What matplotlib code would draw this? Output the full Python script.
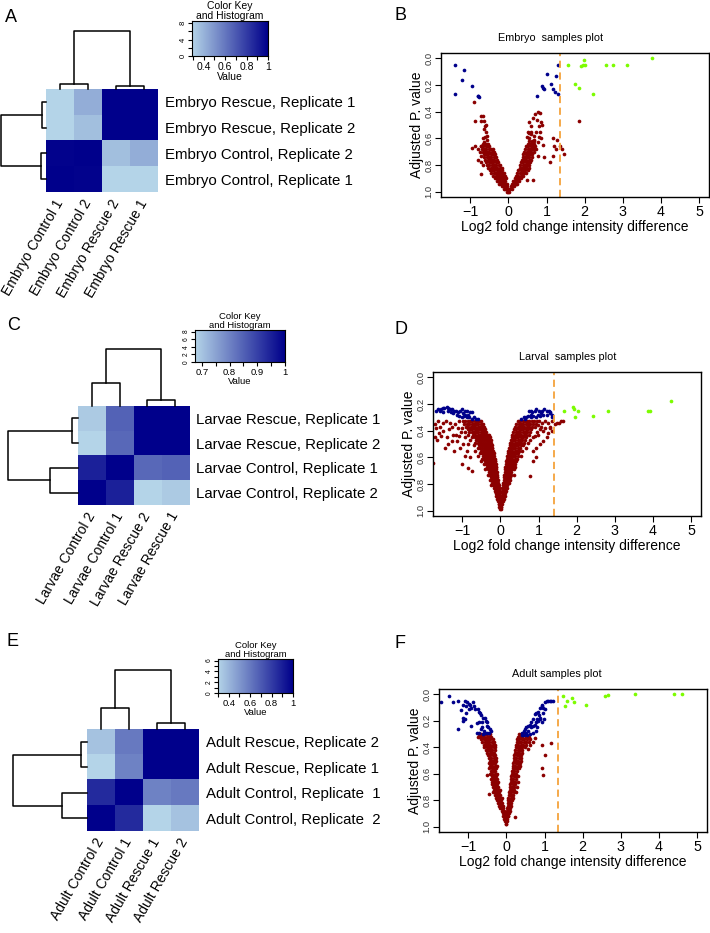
import numpy as np
import matplotlib.pyplot as plt
from matplotlib import font_manager
from matplotlib.colors import LinearSegmentedColormap

W, H = 710, 933
plt.rcParams['font.family'] = ['Liberation Sans', 'DejaVu Sans']
installed = {f.name for f in font_manager.fontManager.ttflist}
narrow = 'Liberation Sans Narrow' in installed

# ---------------- heatmap data ----------------
emb_rows = ['Embryo Rescue, Replicate 1', 'Embryo Rescue, Replicate 2',
            'Embryo Control, Replicate 2', 'Embryo Control, Replicate 1']
emb_cols = ['Embryo Control 1', 'Embryo Control 2', 'Embryo Rescue 2', 'Embryo Rescue 1']
emb_corr = [[0.29, 0.42, 1.00, 1.00],
            [0.29, 0.36, 1.00, 1.00],
            [0.99, 1.00, 0.36, 0.42],
            [1.00, 0.99, 0.29, 0.29]]
emb_col_h = [0.087, 0.058, 1.0]   # pair(1,2), pair(3,4), root
emb_row_h = [0.096, 0.11, 1.0]

larv_rows = ['Larvae Rescue, Replicate 1', 'Larvae Rescue, Replicate 2',
             'Larvae Control, Replicate 1', 'Larvae Control, Replicate 2']
larv_cols = ['Larvae Control 2', 'Larvae Control 1', 'Larvae Rescue 2', 'Larvae Rescue 1']
larv_corr = [[0.69, 0.85, 1.00, 1.00],
             [0.675, 0.84, 1.00, 1.00],
             [0.95, 1.00, 0.84, 0.85],
             [1.00, 0.95, 0.675, 0.69]]
larv_col_h = [0.40, 0.106, 1.0]
larv_row_h = [0.092, 0.406, 1.0]

adult_rows = ['Adult Rescue, Replicate 2', 'Adult Rescue, Replicate 1',
              'Adult Control, Replicate  1', 'Adult Control, Replicate  2']
adult_cols = ['Adult Control 2', 'Adult Control 1', 'Adult Rescue 1', 'Adult Rescue 2']
adult_corr = [[0.36, 0.60, 1.00, 1.00],
              [0.30, 0.57, 1.00, 1.00],
              [0.86, 1.00, 0.57, 0.60],
              [1.00, 0.86, 0.30, 0.36]]
adult_col_h = [0.35, 0.096, 1.0]
adult_row_h = [0.083, 0.335, 1.0]

# ---------------- volcano data ----------------
# dense arms: (adjusted p, [log2 fold changes])
b_red_rows = [
    (0.62, [0.55, 0.61, 0.67]),
    (0.64, [-0.68, -0.63, -0.58, -0.53, 0.50, 0.56, 0.62, 0.68]),
    (0.66, [-0.72, -0.66, -0.60, -0.55, -0.50, 0.46, 0.52, 0.58, 0.64, 0.70]),
    (0.68, [-0.70, -0.64, -0.58, -0.52, -0.46, -0.41, 0.44, 0.50, 0.56, 0.62, 0.68, 0.73]),
    (0.70, [-0.68, -0.62, -0.56, -0.50, -0.44, -0.38, 0.42, 0.48, 0.54, 0.60, 0.66]),
    (0.72, [-0.65, -0.59, -0.53, -0.47, -0.41, -0.36, 0.39, 0.45, 0.51, 0.57, 0.63]),
    (0.74, [-0.63, -0.57, -0.51, -0.45, -0.39, -0.33, 0.37, 0.43, 0.49, 0.55, 0.61]),
    (0.76, [-0.61, -0.55, -0.49, -0.43, -0.37, -0.31, 0.35, 0.41, 0.47, 0.53, 0.59]),
    (0.78, [-0.58, -0.52, -0.46, -0.40, -0.34, -0.28, 0.33, 0.39, 0.45, 0.51, 0.57]),
    (0.80, [-0.56, -0.50, -0.44, -0.38, -0.32, -0.26, -0.21, 0.31, 0.37, 0.43, 0.49, 0.55]),
    (0.82, [-0.53, -0.47, -0.41, -0.35, -0.29, -0.23, -0.18, 0.29, 0.35, 0.41, 0.47, 0.53]),
    (0.84, [-0.49, -0.43, -0.37, -0.31, -0.25, -0.20, -0.16, 0.26, 0.32, 0.38, 0.44, 0.50]),
    (0.86, [-0.45, -0.39, -0.33, -0.27, -0.22, -0.17, -0.13, 0.23, 0.29, 0.35, 0.41, 0.46]),
    (0.88, [-0.40, -0.34, -0.29, -0.24, -0.19, -0.14, -0.10, 0.20, 0.26, 0.32, 0.38]),
    (0.90, [-0.35, -0.30, -0.25, -0.20, -0.15, -0.11, -0.07, 0.16, 0.22, 0.28, 0.33]),
    (0.92, [-0.30, -0.25, -0.20, -0.16, -0.12, -0.08, 0.13, 0.18, 0.23, 0.28]),
    (0.94, [-0.24, -0.20, -0.16, -0.12, -0.08, -0.05, 0.09, 0.14, 0.19, 0.23]),
    (0.96, [-0.18, -0.14, -0.10, -0.07, -0.04, 0.06, 0.10, 0.14]),
    (0.98, [-0.11, -0.08, -0.05, -0.02, 0.02, 0.05, 0.08]),
    (1.00, [-0.04, -0.01, 0.01]),
]
b_red_extra = [(-0.91, 0.33), (-0.72, 0.43), (-0.66, 0.43), (-0.63, 0.47), (-0.60, 0.50),
               (-0.64, 0.53), (-0.58, 0.55), (-0.57, 0.58), (-0.62, 0.51), (-0.72, 0.47),
               (-0.89, 0.47), (-0.96, 0.67), (-0.88, 0.66), (-0.76, 0.70), (-0.73, 0.73),
               (-0.73, 0.78), (-0.71, 0.87), (-0.67, 0.60), (-0.61, 0.59), (-0.56, 0.61),
               (-0.65, 0.63), (-0.72, 0.66), (-0.79, 0.68), (-0.80, 0.76), (-0.67, 0.80),
               (0.53, 0.48), (0.58, 0.51), (0.65, 0.45), (0.70, 0.42), (0.77, 0.40),
               (0.82, 0.41), (0.86, 0.48), (0.80, 0.51), (0.74, 0.46), (0.60, 0.55),
               (0.53, 0.56), (0.82, 0.55), (0.87, 0.50), (1.17, 0.60), (1.28, 0.61),
               (1.20, 0.66), (1.25, 0.68), (1.36, 0.66), (1.16, 0.73), (1.10, 0.78),
               (0.93, 0.74), (0.77, 0.73), (1.45, 0.72), (1.40, 0.68), (0.48, 0.91),
               (0.64, 0.91), (0.46, 0.82), (1.84, 0.47), (0.51, 0.55), (0.59, 0.57),
               (0.66, 0.58), (0.73, 0.55), (0.79, 0.59), (0.68, 0.61), (0.55, 0.60),
               (0.49, 0.59), (0.61, 0.63), (0.77, 0.63), (0.86, 0.60), (0.90, 0.65),
               (0.64, 0.66)]
b_blue = [(-1.40, 0.05), (-1.16, 0.09), (-1.21, 0.16), (-0.95, 0.21), (-1.40, 0.27),
          (-0.80, 0.28), (-0.79, 0.28), (-0.78, 0.29), (1.29, 0.05), (1.00, 0.12),
          (1.25, 0.13), (0.88, 0.21), (0.91, 0.22), (0.94, 0.23), (1.12, 0.19),
          (1.17, 0.23), (1.22, 0.25), (1.29, 0.27), (0.74, 0.28)]
b_green = [(1.56, 0.05), (1.74, 0.19), (1.84, 0.22), (1.90, 0.06), (1.96, 0.05),
           (2.00, 0.05), (1.98, 0.01), (2.23, 0.27), (2.57, 0.05), (2.75, 0.05),
           (3.10, 0.05), (3.77, 0.00)]

d_red_rows = [
    (0.33, [-0.98, -0.92, -0.86, -0.80, -0.74, -0.68, -0.62, -0.56, -0.50,
            0.46, 0.52, 0.58, 0.64, 0.70, 0.76, 0.82, 0.88, 0.95, 1.02]),
    (0.35, [-0.95, -0.88, -0.82, -0.76, -0.70, -0.64, -0.58, -0.52, -0.46,
            0.42, 0.48, 0.54, 0.60, 0.66, 0.72, 0.78, 0.85, 0.92]),
    (0.37, [-0.90, -0.84, -0.78, -0.72, -0.66, -0.60, -0.54, -0.48, -0.43,
            0.39, 0.45, 0.51, 0.57, 0.63, 0.69, 0.75, 0.82, 0.90, 1.05]),
    (0.39, [-0.86, -0.80, -0.74, -0.68, -0.62, -0.56, -0.50, -0.45, -0.40,
            0.36, 0.42, 0.48, 0.54, 0.60, 0.66, 0.72, 0.80]),
    (0.41, [-0.82, -0.76, -0.70, -0.64, -0.58, -0.52, -0.47, -0.42, -0.37,
            0.34, 0.40, 0.46, 0.52, 0.58, 0.64, 0.70, 0.78, 0.95]),
    (0.43, [-0.85, -0.72, -0.66, -0.60, -0.54, -0.49, -0.44, -0.39, -0.34, -0.29,
            0.31, 0.37, 0.43, 0.49, 0.55, 0.61, 0.68, 0.75]),
    (0.45, [-0.74, -0.68, -0.62, -0.56, -0.51, -0.46, -0.41, -0.36, -0.31, -0.27,
            0.29, 0.35, 0.41, 0.47, 0.53, 0.59, 0.66, 0.85]),
    (0.47, [-0.80, -0.64, -0.58, -0.53, -0.48, -0.43, -0.38, -0.33, -0.29, -0.26,
            0.27, 0.33, 0.39, 0.45, 0.51, 0.57, 0.64]),
    (0.49, [-0.66, -0.60, -0.55, -0.50, -0.45, -0.40, -0.35, -0.31, -0.27, -0.24,
            0.25, 0.31, 0.37, 0.43, 0.49, 0.55, 0.62, 0.72]),
    (0.51, [-0.70, -0.57, -0.52, -0.47, -0.42, -0.37, -0.33, -0.29, -0.25, -0.22,
            0.24, 0.29, 0.35, 0.41, 0.47, 0.53, 0.60]),
    (0.53, [-0.60, -0.54, -0.49, -0.44, -0.39, -0.35, -0.31, -0.27, -0.23, -0.21,
            0.22, 0.27, 0.33, 0.39, 0.45, 0.51, 0.66]),
    (0.55, [-0.66, -0.51, -0.46, -0.41, -0.37, -0.33, -0.29, -0.25, -0.22, -0.19,
            0.21, 0.26, 0.31, 0.37, 0.43, 0.49, 0.56]),
    (0.57, [-0.54, -0.48, -0.43, -0.39, -0.35, -0.31, -0.27, -0.23, -0.20, -0.18,
            0.19, 0.24, 0.29, 0.35, 0.41, 0.47]),
    (0.59, [-0.58, -0.45, -0.41, -0.37, -0.33, -0.29, -0.25, -0.22, -0.19, -0.17,
            0.18, 0.23, 0.28, 0.33, 0.39, 0.45, 0.55]),
    (0.61, [-0.48, -0.42, -0.38, -0.34, -0.30, -0.26, -0.23, -0.20, -0.17, -0.15,
            0.17, 0.21, 0.26, 0.31, 0.37, 0.43]),
    (0.63, [-0.52, -0.40, -0.36, -0.32, -0.28, -0.24, -0.21, -0.18, -0.15, -0.14,
            0.15, 0.20, 0.25, 0.30, 0.35, 0.41]),
    (0.65, [-0.44, -0.37, -0.33, -0.29, -0.26, -0.23, -0.20, -0.17, -0.14, -0.13,
            0.14, 0.18, 0.23, 0.28, 0.33, 0.39]),
    (0.67, [-0.35, -0.31, -0.27, -0.24, -0.21, -0.18, -0.15, -0.13, -0.12,
            0.13, 0.17, 0.22, 0.27, 0.32, 0.37]),
    (0.69, [-0.40, -0.32, -0.28, -0.25, -0.22, -0.19, -0.16, -0.14, -0.11,
            0.12, 0.16, 0.20, 0.25, 0.30, 0.35]),
    (0.71, [-0.30, -0.26, -0.23, -0.20, -0.17, -0.15, -0.12, -0.10,
            0.11, 0.15, 0.19, 0.24, 0.28]),
    (0.73, [-0.34, -0.27, -0.24, -0.21, -0.18, -0.16, -0.13, -0.11, -0.09,
            0.10, 0.14, 0.18, 0.22, 0.27, 0.36]),
    (0.75, [-0.25, -0.22, -0.19, -0.17, -0.14, -0.12, -0.10, -0.08,
            0.09, 0.13, 0.17, 0.21, 0.25]),
    (0.77, [-0.28, -0.23, -0.20, -0.18, -0.15, -0.13, -0.11, -0.09, -0.07,
            0.08, 0.12, 0.16, 0.20, 0.24]),
    (0.79, [-0.21, -0.18, -0.16, -0.14, -0.12, -0.10, -0.08, -0.06,
            0.07, 0.11, 0.15, 0.19, 0.23]),
    (0.81, [-0.24, -0.19, -0.16, -0.14, -0.12, -0.10, -0.08, -0.06, -0.05,
            0.06, 0.10, 0.14, 0.18]),
    (0.83, [-0.17, -0.15, -0.13, -0.11, -0.09, -0.07, -0.05, -0.04, 0.05, 0.09, 0.13, 0.17]),
    (0.85, [-0.15, -0.13, -0.11, -0.09, -0.07, -0.05, -0.04, 0.05, 0.08, 0.12, 0.15]),
    (0.87, [-0.13, -0.11, -0.09, -0.07, -0.05, -0.03, 0.04, 0.07, 0.10, 0.13]),
    (0.89, [-0.11, -0.09, -0.07, -0.05, -0.03, -0.02, 0.03, 0.06, 0.09, 0.12]),
    (0.91, [-0.09, -0.07, -0.05, -0.03, -0.02, 0.03, 0.05, 0.08]),
    (0.93, [-0.07, -0.05, -0.03, -0.01, 0.02, 0.04, 0.07]),
    (0.95, [-0.05, -0.03, -0.01, 0.01, 0.02, 0.04]),
    (0.97, [-0.03, -0.01, 0.01, 0.02]),
    (0.99, [-0.01, 0.01]),
]
d_red_extra = [(-1.72, 0.45), (-1.66, 0.47), (-1.69, 0.38), (-1.59, 0.37), (-1.50, 0.40),
               (-1.55, 0.44), (-1.41, 0.45), (-1.46, 0.53), (-1.28, 0.48), (-1.24, 0.43),
               (-1.15, 0.48), (-1.07, 0.53), (-0.98, 0.50), (-1.02, 0.65), (-0.85, 0.68),
               (-1.76, 0.64), (-1.43, 0.33), (-1.33, 0.34), (-1.20, 0.35), (-1.11, 0.38),
               (-1.34, 0.39), (-1.26, 0.37), (-1.00, 0.38), (-0.93, 0.41), (-1.63, 0.33),
               (-1.72, 0.35), (-1.52, 0.34), (-1.17, 0.43), (-1.08, 0.44), (-1.37, 0.50),
               (-1.22, 0.55), (-0.89, 0.55), (-0.80, 0.60), (-0.93, 0.59), (-0.76, 0.70),
               (-1.10, 0.33), (-0.92, 0.45), (-0.84, 0.50), (-1.04, 0.41), (-1.60, 0.42),
               (0.77, 0.74), (0.86, 0.55), (0.94, 0.53), (1.03, 0.50), (1.12, 0.48),
               (1.21, 0.45), (1.25, 0.42), (1.12, 0.40), (0.99, 0.43), (1.16, 0.38),
               (1.03, 0.39), (0.90, 0.44), (0.77, 0.47), (1.29, 0.37), (0.94, 0.60),
               (0.86, 0.63), (1.31, 0.38), (1.34, 0.40), (1.25, 0.34), (1.34, 0.33),
               (1.10, 0.34), (1.18, 0.33), (0.98, 0.36), (1.42, 0.35), (1.48, 0.34),
               (1.54, 0.34), (1.60, 0.33), (1.64, 0.33)]
d_blue = [(-1.68, 0.25), (-1.63, 0.24), (-1.57, 0.24), (-1.52, 0.23), (-1.48, 0.23),
          (-1.41, 0.22), (-1.37, 0.23), (-1.33, 0.24), (-1.28, 0.24), (-1.22, 0.25),
          (-1.17, 0.25), (-1.12, 0.26), (-1.07, 0.25), (-1.00, 0.24), (-0.93, 0.25),
          (-0.87, 0.25), (-0.80, 0.26), (-0.76, 0.26), (-1.59, 0.25), (-1.50, 0.26),
          (-1.37, 0.25), (-1.14, 0.28), (-1.08, 0.29), (-1.02, 0.30), (-0.96, 0.29),
          (-0.89, 0.30), (-0.82, 0.30), (-0.76, 0.31), (-0.70, 0.30), (-0.65, 0.31),
          (-0.59, 0.31), (-0.98, 0.27), (-0.93, 0.28), (-0.86, 0.28), (-1.24, 0.27),
          (-1.31, 0.26),
          (0.55, 0.31), (0.61, 0.30), (0.68, 0.30), (0.75, 0.25), (0.79, 0.25),
          (0.84, 0.26), (0.90, 0.25), (0.94, 0.24), (1.00, 0.25), (1.05, 0.27),
          (1.10, 0.25), (1.15, 0.24), (1.21, 0.25), (1.26, 0.25), (1.31, 0.26),
          (1.35, 0.28), (0.86, 0.29), (0.93, 0.30), (0.99, 0.28), (1.03, 0.29),
          (1.12, 0.28), (1.21, 0.28), (1.29, 0.27), (1.34, 0.30), (0.79, 0.28),
          (0.72, 0.29), (0.65, 0.31), (0.81, 0.30)]
d_green = [(1.66, 0.25), (1.90, 0.22), (1.94, 0.24), (2.04, 0.25), (1.96, 0.30),
           (2.43, 0.29), (2.82, 0.25), (3.87, 0.25), (3.92, 0.25), (4.46, 0.18)]

f_red_rows = [
    (0.30, [-0.68, -0.62, -0.56, -0.50, -0.44, 0.33, 0.39, 0.45]),
    (0.32, [-0.70, -0.64, -0.58, -0.52, -0.46, -0.40, 0.30, 0.36, 0.42, 0.50, 0.58]),
    (0.34, [-0.66, -0.60, -0.54, -0.48, -0.42, -0.36, 0.28, 0.34, 0.40, 0.46, 0.54, 0.62]),
    (0.36, [-0.63, -0.57, -0.51, -0.45, -0.39, -0.33, 0.27, 0.33, 0.39, 0.45, 0.52, 0.60, 0.70]),
    (0.38, [-0.60, -0.54, -0.48, -0.42, -0.36, -0.31, 0.25, 0.31, 0.37, 0.43, 0.50]),
    (0.40, [-0.58, -0.52, -0.46, -0.40, -0.34, -0.29, 0.24, 0.30, 0.36, 0.42, 0.48]),
    (0.42, [-0.55, -0.49, -0.43, -0.37, -0.31, 0.23, 0.29, 0.35, 0.41]),
    (0.44, [-0.50, -0.44, -0.38, -0.32, 0.22, 0.28, 0.34, 0.40]),
    (0.46, [-0.48, -0.42, -0.36, -0.30, 0.21, 0.27, 0.33, 0.39]),
    (0.48, [-0.46, -0.40, -0.34, -0.28, 0.20, 0.26, 0.32, 0.38]),
    (0.50, [-0.44, -0.38, -0.32, -0.27, 0.19, 0.25, 0.31, 0.37]),
    (0.52, [-0.47, -0.40, -0.35, -0.29, 0.18, 0.24, 0.30, 0.36]),
    (0.54, [-0.43, -0.37, -0.31, -0.26, 0.17, 0.23, 0.29, 0.35]),
    (0.56, [-0.45, -0.39, -0.33, -0.27, 0.16, 0.22, 0.28, 0.34]),
    (0.58, [-0.41, -0.35, -0.29, 0.15, 0.21, 0.27]),
    (0.60, [-0.43, -0.37, -0.31, -0.26, 0.14, 0.20, 0.26]),
    (0.62, [-0.39, -0.33, -0.28, 0.13, 0.19, 0.25, 0.31]),
    (0.64, [-0.41, -0.35, -0.30, -0.24, 0.12, 0.18, 0.24]),
    (0.66, [-0.37, -0.32, -0.27, -0.22, 0.11, 0.17, 0.23, 0.29]),
    (0.68, [-0.39, -0.34, -0.29, -0.24, 0.10, 0.16, 0.22]),
    (0.70, [-0.36, -0.31, -0.26, -0.21, 0.09, 0.15, 0.21, 0.27]),
    (0.72, [-0.33, -0.28, -0.23, -0.18, 0.08, 0.14, 0.20]),
    (0.74, [-0.35, -0.30, -0.25, -0.20, 0.07, 0.13, 0.19, 0.25]),
    (0.76, [-0.31, -0.26, -0.21, -0.16, 0.06, 0.12, 0.18]),
    (0.78, [-0.28, -0.23, -0.18, -0.13, 0.05, 0.11, 0.17]),
    (0.80, [-0.24, -0.19, -0.14, 0.04, 0.10, 0.15]),
    (0.82, [-0.22, -0.17, -0.12, 0.03, 0.08, 0.13]),
    (0.84, [-0.19, -0.14, -0.10, 0.03, 0.07, 0.11]),
    (0.86, [-0.16, -0.12, -0.08, 0.02, 0.06, 0.10]),
    (0.88, [-0.13, -0.09, -0.06, 0.02, 0.05, 0.08]),
    (0.90, [-0.10, -0.07, -0.04, 0.01, 0.04, 0.07]),
    (0.92, [-0.08, -0.05, -0.02, 0.01, 0.03, 0.05]),
    (0.94, [-0.06, -0.03, 0.00, 0.02]),
    (0.96, [-0.04, -0.01, 0.01]),
    (0.98, [-0.02, 0.00]),
]
f_red_extra = [(0.94, 0.38), (1.18, 0.37), (1.00, 0.46), (0.92, 0.56), (0.96, 0.61),
               (0.23, 0.93), (-0.51, 0.61), (-0.45, 0.75), (-0.72, 0.30), (-0.76, 0.32),
               (0.62, 0.38), (0.56, 0.41), (0.74, 0.33)]
f_blue = [(-1.71, 0.06), (-1.51, 0.01), (-1.39, 0.06), (-1.26, 0.05), (-1.20, 0.12),
          (-1.15, 0.08), (-1.09, 0.05), (-1.06, 0.09), (-1.03, 0.06), (-0.99, 0.07),
          (-0.96, 0.08), (-0.92, 0.10), (-0.89, 0.06), (-0.85, 0.09), (-0.82, 0.11),
          (-0.98, 0.11), (-1.05, 0.14), (-1.13, 0.18), (-1.15, 0.20), (-1.09, 0.19),
          (-1.27, 0.26), (-0.92, 0.24), (-0.75, 0.11), (-0.71, 0.13), (-0.70, 0.14),
          (-0.66, 0.16), (-0.73, 0.21), (-0.61, 0.18), (-0.57, 0.18), (-0.54, 0.20),
          (-0.51, 0.21), (-0.52, 0.24), (-0.48, 0.25), (-0.68, 0.26), (-0.63, 0.25),
          (-0.59, 0.28), (-0.56, 0.29), (-0.71, 0.29), (-0.77, 0.29), (-0.61, 0.30),
          (-0.52, 0.29), (-0.44, 0.26), (-0.45, 0.29), (-0.41, 0.28), (-0.78, 0.22),
          (-0.65, 0.21),
          (1.05, 0.05), (1.09, 0.05), (1.13, 0.05), (1.18, 0.05), (1.22, 0.05),
          (1.00, 0.06), (0.94, 0.08), (0.92, 0.09), (0.87, 0.10), (0.96, 0.10),
          (0.83, 0.13), (0.78, 0.14), (0.74, 0.15), (0.85, 0.16), (0.89, 0.18),
          (0.80, 0.19), (0.70, 0.19), (0.65, 0.21), (0.61, 0.23), (0.57, 0.24),
          (0.52, 0.25), (0.48, 0.26), (0.45, 0.28), (0.42, 0.29), (0.51, 0.29),
          (0.57, 0.28), (0.65, 0.25), (0.70, 0.24), (0.74, 0.23), (0.78, 0.21),
          (0.83, 0.20), (0.87, 0.19), (0.92, 0.21), (0.81, 0.25), (0.77, 0.28),
          (0.70, 0.29), (0.61, 0.30), (0.54, 0.31), (0.45, 0.31), (0.40, 0.31),
          (0.96, 0.14), (1.01, 0.11), (0.98, 0.19)]
f_green = [(1.48, 0.01), (1.60, 0.05), (1.71, 0.03), (1.76, 0.055), (1.53, 0.09),
           (2.09, 0.08), (2.59, 0.01), (2.65, 0.003), (3.38, 0.0), (4.40, 0.0), (4.60, 0.0)]

# ---------------- drawing ----------------
cmap = LinearSegmentedColormap.from_list('key', ['#B4D4E8', '#00008B'])
fig = plt.figure(figsize=(W / 100, H / 100), dpi=100)


def px_axes(x0, y0, x1, y1):
    return fig.add_axes([x0 / W, 1 - y1 / H, (x1 - x0) / W, (y1 - y0) / H])


def heatmap(box, corr, rows, cols):
    ax = px_axes(*box)
    vals = np.array(corr)
    ax.imshow(vals, cmap=cmap, vmin=vals.min(), vmax=1, aspect='auto', interpolation='nearest')
    ax.set_xticks(range(len(cols)))
    ax.set_xticklabels(cols, rotation=60, ha='right', va='center', rotation_mode='anchor', fontsize=10)
    ax.yaxis.tick_right()
    ax.set_yticks(range(len(rows)))
    ax.set_yticklabels(rows, fontsize=10.8)
    ax.tick_params(axis='x', length=0, pad=6)
    ax.tick_params(axis='y', length=0, pad=5)
    for s in ax.spines.values():
        s.set_visible(False)


def col_dendro(box, h):
    ax = px_axes(*box)
    h1, h2, hr = h
    ax.plot([0, 0, 1, 1], [0, h1, h1, 0], color='black', lw=1.1, clip_on=False)
    ax.plot([2, 2, 3, 3], [0, h2, h2, 0], color='black', lw=1.1, clip_on=False)
    ax.plot([0.5, 0.5, 2.5, 2.5], [h1, hr, hr, h2], color='black', lw=1.1, clip_on=False)
    ax.set_xlim(-0.5, 3.5)
    ax.set_ylim(0, 1)
    ax.axis('off')


def row_dendro(box, h):
    ax = px_axes(*box)
    h1, h2, hr = h
    ax.plot([0, h1, h1, 0], [0, 0, 1, 1], color='black', lw=1.1, clip_on=False)
    ax.plot([0, h2, h2, 0], [2, 2, 3, 3], color='black', lw=1.1, clip_on=False)
    ax.plot([h1, hr, hr, h2], [0.5, 0.5, 2.5, 2.5], color='black', lw=1.1, clip_on=False)
    ax.set_ylim(3.5, -0.5)
    ax.set_xlim(1, 0)
    ax.axis('off')


def color_key(box, vmin, ymax, yticks, yshown, xticks, xshown, fs):
    ax = px_axes(*box)
    grad = np.linspace(vmin, 1, 256)[None, :]
    ax.imshow(grad, cmap=cmap, vmin=vmin, vmax=1, extent=[vmin, 1, 0, ymax], aspect='auto')
    ax.set_xlim(vmin, 1)
    ax.set_ylim(0, ymax)
    ax.set_xticks(xticks)
    ax.set_xticklabels([('%g' % t) if t in xshown else '' for t in xticks], fontsize=fs)
    ax.set_yticks(yticks)
    ax.set_yticklabels([('%g' % t) if t in yshown else '' for t in yticks],
                       fontsize=fs - 2, rotation=90, va='center')
    ax.tick_params(axis='x', length=3, width=0.8, pad=1)
    ax.tick_params(axis='y', length=3, width=0.8, pad=1)
    ax.set_xlabel('Value', fontsize=fs, labelpad=0)
    ax.set_title('Color Key\nand Histogram', fontsize=fs, pad=1, linespacing=0.95)
    for s in ax.spines.values():
        s.set_linewidth(0.8)


def rows_xy(rows):
    xs = [x for y, row in rows for x in row]
    ys = [y for y, row in rows for x in row]
    return xs, ys


def volcano(box, title, title_x, red_rows, red_extra, blue, green, cutoff):
    ax = px_axes(*box)
    rx, ry = rows_xy(red_rows)
    rx += [p[0] for p in red_extra]
    ry += [p[1] for p in red_extra]
    ax.scatter(rx, ry, s=7, c='#8B0000', linewidths=0)
    ax.scatter([p[0] for p in blue], [p[1] for p in blue], s=7, c='#00008B', linewidths=0)
    ax.scatter([p[0] for p in green], [p[1] for p in green], s=7, c='#7CFC00', linewidths=0)
    ax.axvline(cutoff, color='#F5A33C', lw=1.3, dashes=(4, 2.5))
    ax.set_xlim(-1.77, 5.26)
    ax.set_ylim(1.04, -0.04)
    ax.set_xticks(range(-1, 6))
    ax.set_xticklabels(['\u22121', '0', '1', '2', '3', '4', '5'], fontsize=10.3)
    ax.set_yticks([0, 0.2, 0.4, 0.6, 0.8, 1.0])
    ax.set_yticklabels(['0.0', '0.2', '0.4', '0.6', '0.8', '1.0'], fontsize=6.8,
                       rotation=90, va='center', color='#333333')
    ax.tick_params(length=4, width=0.8, pad=1.5)
    ax.set_xlabel('Log2 fold change intensity difference', fontsize=10, labelpad=1)
    ax.set_ylabel('Adjusted P. value', fontsize=10, labelpad=0)
    for s in ax.spines.values():
        s.set_linewidth(1.0)
    x0, y0, x1, y1 = box
    if narrow:
        fig.text(title_x / W, 1 - (y0 - 15) / H, title, fontsize=9,
                 family='Liberation Sans Narrow', ha='center', va='center')
    else:
        fig.text(title_x / W, 1 - (y0 - 15) / H, title, fontsize=7.8, ha='center', va='center')


# panel A
heatmap((46, 89, 158, 192), emb_corr, emb_rows, emb_cols)
col_dendro((46, 31, 158, 89), emb_col_h)
row_dendro((1, 89, 46, 192), emb_row_h)
color_key((192, 21, 268, 56), np.min(emb_corr), 8.5, [0, 2, 4, 6, 8], [0, 4, 8],
          [0.3, 0.4, 0.5, 0.6, 0.7, 0.8, 0.9, 1.0], [0.4, 0.6, 0.8, 1.0], 7.5)

# panel C
heatmap((78, 406, 189, 505), larv_corr, larv_rows, larv_cols)
col_dendro((78, 349, 189, 406), larv_col_h)
row_dendro((8, 406, 78, 505), larv_row_h)
color_key((195, 330, 285, 362), np.min(larv_corr), 8.4, [0, 2, 4, 6, 8], [0, 2, 4, 6, 8],
          [0.7, 0.75, 0.8, 0.85, 0.9, 0.95, 1.0], [0.7, 0.8, 0.9, 1.0], 6.8)

# panel E
heatmap((87, 729, 199, 831), adult_corr, adult_rows, adult_cols)
col_dendro((87, 670, 199, 729), adult_col_h)
row_dendro((13, 729, 87, 831), adult_row_h)
color_key((218, 659, 293, 693), np.min(adult_corr), 6.3, [0, 1, 2, 3, 4, 5, 6], [0, 2, 4, 6],
          [0.3, 0.4, 0.5, 0.6, 0.7, 0.8, 0.9, 1.0], [0.4, 0.6, 0.8, 1.0], 6.8)

# volcano panels
volcano((441, 53, 709, 197), 'Embryo  samples plot', 551, b_red_rows, b_red_extra, b_blue, b_green, 1.36)
volcano((433, 372, 701, 516), 'Larval  samples plot', 568, d_red_rows, d_red_extra, d_blue, d_green, 1.40)
volcano((439, 689, 707, 832), 'Adult samples plot', 557, f_red_rows, f_red_extra, f_blue, f_green, 1.35)

for letter, x, y in [('A', 5, 17), ('B', 395, 15), ('C', 7, 326),
                     ('D', 395, 330), ('E', 7, 642), ('F', 395, 643)]:
    fig.text(x / W, 1 - y / H, letter, fontsize=13, ha='left', va='center')

fig.savefig('out.png', dpi=100)
